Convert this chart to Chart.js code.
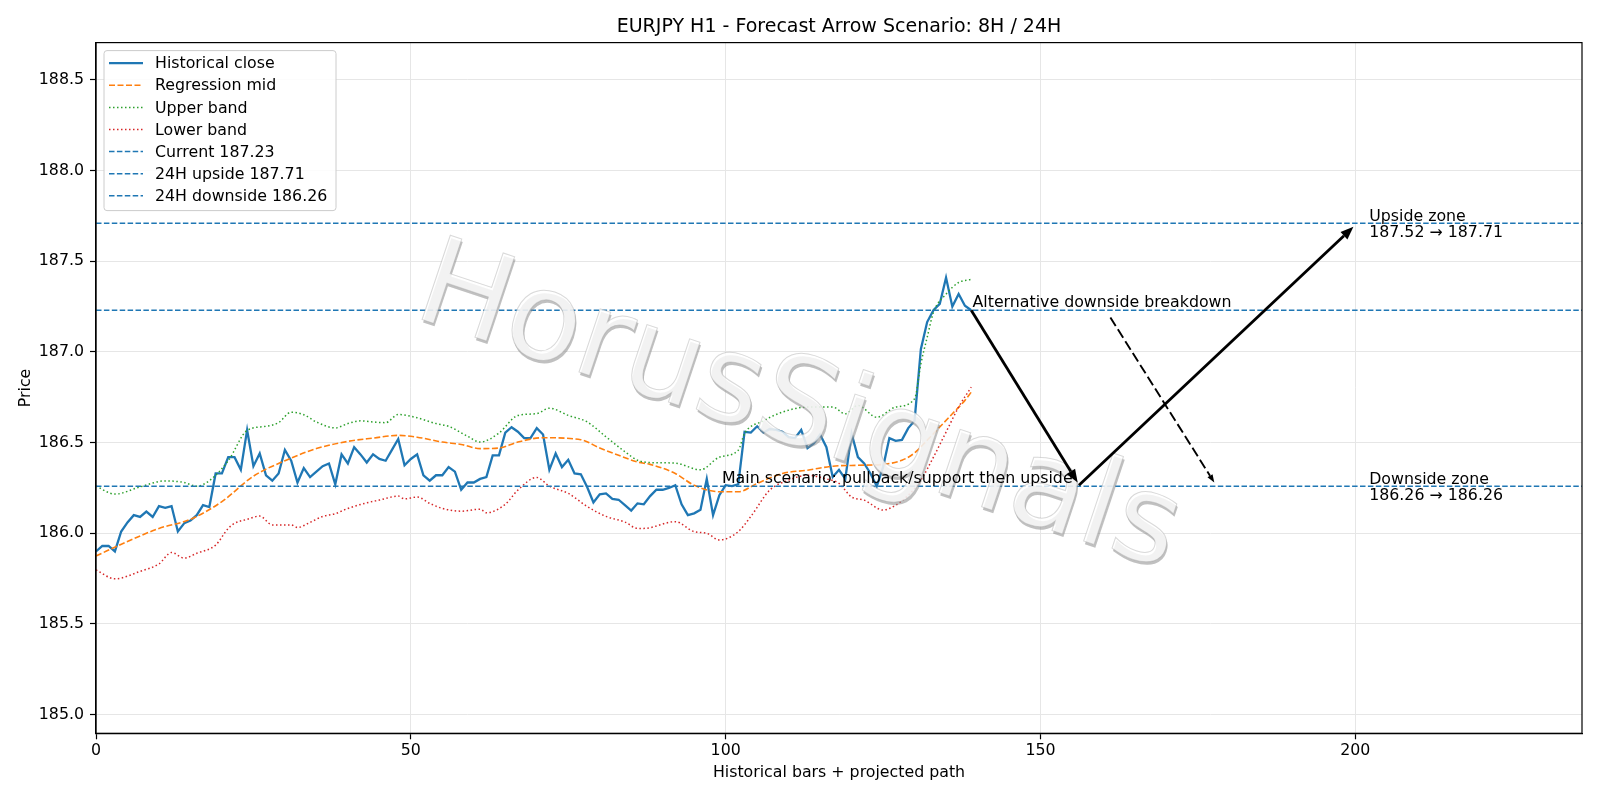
<!DOCTYPE html>
<html>
<head>
<meta charset="utf-8">
<script src="https://cdn.jsdelivr.net/npm/chart.js@4.4.1/dist/chart.umd.min.js"></script>
<style>
    html, body { margin: 0; padding: 0; background: #fff; }
    #wrap { width: 1600px; height: 800px; }
</style>
</head>
<body>
<div id="wrap"><canvas id="chart" width="1600" height="800"></canvas></div>
<script>
// historical close, one value per bar (0..139)
const closeValues = [
    185.90, 185.93, 185.93, 185.90, 186.01, 186.06, 186.10, 186.09, 186.12, 186.09,
    186.15, 186.14, 186.15, 186.01, 186.055, 186.07, 186.10, 186.155, 186.145, 186.33,
    186.33, 186.42, 186.42, 186.35, 186.57, 186.37, 186.44, 186.32, 186.29, 186.33,
    186.46, 186.40, 186.28, 186.36, 186.31, 186.34, 186.37, 186.385, 186.27, 186.435,
    186.385, 186.475, 186.435, 186.39, 186.435, 186.41, 186.40, 186.46, 186.52, 186.375,
    186.41, 186.435, 186.32, 186.29, 186.32, 186.32, 186.365, 186.34, 186.24, 186.28,
    186.28, 186.30, 186.31, 186.43, 186.43, 186.555, 186.585, 186.56, 186.525, 186.525,
    186.58, 186.545, 186.35, 186.44, 186.365, 186.405, 186.33, 186.325, 186.255, 186.17,
    186.215, 186.22, 186.19, 186.185, 186.155, 186.125, 186.165, 186.16, 186.205, 186.24,
    186.24, 186.25, 186.265, 186.16, 186.10, 186.11, 186.13, 186.30, 186.10, 186.21,
    186.265, 186.26, 186.27, 186.56, 186.555, 186.59, 186.555, 186.575, 186.57, 186.56,
    186.53, 186.525, 186.57, 186.47, 186.495, 186.545, 186.475, 186.31, 186.35, 186.30,
    186.55, 186.42, 186.385, 186.33, 186.26, 186.365, 186.525, 186.51, 186.515, 186.58,
    186.62, 187.015, 187.165, 187.23, 187.265, 187.41, 187.25, 187.32, 187.255, 187.23
]

const midX = [0, 5, 10, 15, 20, 25, 30, 35, 40, 44, 48, 51, 55, 58, 61, 64, 67, 71, 77, 80,
    83, 86, 88, 92, 95, 99, 102, 105, 109, 113, 117, 121, 125, 128, 130, 132, 134, 136, 138, 139]
const midY = [185.875, 185.955, 186.027, 186.077, 186.175, 186.315, 186.40, 186.467, 186.507, 186.525,
    186.54, 186.53, 186.503, 186.49, 186.467, 186.47, 186.503, 186.527, 186.516, 186.47,
    186.43, 186.393, 186.38, 186.33, 186.265, 186.229, 186.229, 186.275, 186.33, 186.348,
    186.37, 186.375, 186.38, 186.403, 186.443, 186.513, 186.586, 186.659, 186.733, 186.778]

const upperX = [0, 3, 7, 11, 14, 16, 18, 21, 24, 27, 29, 31, 33, 35, 38, 40, 42, 44, 46, 48,
    51, 54, 56, 59, 61, 64, 67, 70, 72, 75, 78, 81, 84, 86, 88, 92, 96, 99, 102, 103,
    106, 109, 113, 117, 119, 121, 124, 127, 130, 131, 132, 133, 135, 137, 139]
const upperY = [186.26, 186.216, 186.256, 186.289, 186.28, 186.26, 186.29, 186.40, 186.567, 186.59,
    186.61, 186.668, 186.654, 186.614, 186.581, 186.605, 186.62, 186.614, 186.61, 186.655,
    186.637, 186.605, 186.59, 186.535, 186.503, 186.553, 186.65, 186.66, 186.69, 186.65,
    186.614, 186.532, 186.45, 186.403, 186.39, 186.387, 186.35, 186.42, 186.458, 186.55,
    186.62, 186.668, 186.696, 186.696, 186.659, 186.705, 186.64, 186.696, 186.742, 186.934,
    187.08, 187.218, 187.319, 187.383, 187.40]

const lowerX = [0, 3, 7, 10, 12, 14, 16, 19, 21, 22, 24, 26, 28, 31, 32, 34, 36, 38, 40, 43,
    45, 48, 49, 51, 53, 55, 58, 61, 62, 65, 67, 70, 72, 75, 78, 81, 84, 86, 87, 92,
    95, 97, 99, 102, 104, 107, 110, 113, 116, 118, 120, 122, 125, 127, 129, 131, 133, 135, 137, 139]
const lowerY = [185.798, 185.749, 185.79, 185.831, 185.894, 185.863, 185.89, 185.935, 186.027, 186.055,
    186.077, 186.095, 186.046, 186.046, 186.032, 186.06, 186.093, 186.108, 186.137, 186.168,
    186.183, 186.205, 186.19, 186.2, 186.165, 186.137, 186.122, 186.133, 186.113, 186.16,
    186.238, 186.308, 186.26, 186.22, 186.148, 186.093, 186.062, 186.027, 186.027, 186.064,
    186.009, 186.0, 185.963, 186.009, 186.093, 186.238, 186.293, 186.32, 186.30, 186.275,
    186.20, 186.183, 186.128, 186.155, 186.21, 186.293, 186.42, 186.558, 186.696, 186.806]

const levelValues = [187.23, 187.71, 186.26]
const levelLabels = ["Current 187.23", "24H upside 187.71", "24H downside 186.26"]

// projected path arrows (bar index, price)
const arrowFrom = [[139, 187.23], [156.1, 186.265], [161.1, 187.19]]
const arrowTo = [[155.9, 186.28], [199.7, 187.69], [177.6, 186.28]]
const arrowDashed = [false, false, true]

const noteTexts = [
    ["Main scenario: pullback/support then upside"],
    ["Alternative downside breakdown"],
    ["Upside zone", "187.52 \u2192 187.71"],
    ["Downside zone", "186.26 \u2192 186.26"]
]
const noteX = [155.1, 139.2, 202.2, 202.2]
const noteY = [186.26, 187.23, 187.71, 186.26]
const noteAlign = ["right", "left", "left", "left"]

const xMax = 236
const FONT = "'DejaVu Sans', sans-serif"

const pairUp = (xs, ys) => xs.map((x, i) => ({ x, y: ys[i] }))

Chart.defaults.font.family = FONT
Chart.defaults.font.size = 15.8
Chart.defaults.color = "#000"

const levelDatasets = levelValues.map((value, i) => ({
    label: levelLabels[i],
    data: [{ x: 0, y: value }, { x: xMax, y: value }],
    borderColor: "#1f77b4",
    borderWidth: 1.5,
    borderDash: [5.5, 2.4],
    pointRadius: 0,
    order: 2 - i,
}))

const drawArrow = (ctx, x1, y1, x2, y2, dashed) => {
    const angle = Math.atan2(y2 - y1, x2 - x1)
    const head = dashed ? 8 : 13
    const half = dashed ? 3 : 5
    const bx = x2 - head * Math.cos(angle)
    const by = y2 - head * Math.sin(angle)

    ctx.strokeStyle = "#000"
    ctx.fillStyle = "#000"
    ctx.lineWidth = dashed ? 1.9 : 2.8
    ctx.setLineDash(dashed ? [10, 4] : [])
    ctx.beginPath()
    ctx.moveTo(x1, y1)
    ctx.lineTo(bx, by)
    ctx.stroke()

    ctx.setLineDash([])
    ctx.beginPath()
    ctx.moveTo(x2, y2)
    ctx.lineTo(bx + half * Math.sin(angle), by - half * Math.cos(angle))
    ctx.lineTo(bx - half * Math.sin(angle), by + half * Math.cos(angle))
    ctx.closePath()
    ctx.fill()
}

const watermark = {
    id: "watermark",
    afterDatasetsDraw(chart) {
        const ctx = chart.ctx
        const text = "HorusSignals"
        ctx.save()
        ctx.translate(798, 412)
        ctx.rotate(18.5 * Math.PI / 180)
        ctx.font = "122px " + FONT
        ctx.textAlign = "center"
        ctx.textBaseline = "middle"
        ctx.fillStyle = "rgba(140,140,140,0.55)"
        ctx.fillText(text, 2, 2.5)
        ctx.fillStyle = "rgba(255,255,255,0.8)"
        ctx.fillText(text, 0, 0)
        ctx.strokeStyle = "rgba(160,160,160,0.4)"
        ctx.lineWidth = 1
        ctx.strokeText(text, 0, 0)
        ctx.restore()
    }
}

const overlay = {
    id: "overlay",
    afterDraw(chart) {
        const ctx = chart.ctx
        const area = chart.chartArea
        const xs = chart.scales.x
        const ys = chart.scales.y

        ctx.save()

        // arrows
        arrowFrom.forEach((from, i) => {
            drawArrow(ctx,
                xs.getPixelForValue(from[0]), ys.getPixelForValue(from[1]),
                xs.getPixelForValue(arrowTo[i][0]), ys.getPixelForValue(arrowTo[i][1]),
                arrowDashed[i])
        })

        // annotation texts
        ctx.font = "15.8px " + FONT
        ctx.fillStyle = "#000"
        ctx.textBaseline = "alphabetic"
        noteTexts.forEach((lines, i) => {
            const px = xs.getPixelForValue(noteX[i])
            const py = ys.getPixelForValue(noteY[i])
            ctx.textAlign = noteAlign[i]
            if (lines.length === 1) {
                ctx.fillText(lines[0], px, py - 3)
            } else {
                ctx.fillText(lines[0], px, py - 2.5)
                ctx.fillText(lines[1], px, py + 14)
            }
        })

        // title
        ctx.font = "19px " + FONT
        ctx.textAlign = "center"
        ctx.textBaseline = "middle"
        ctx.fillText("EURJPY H1 - Forecast Arrow Scenario: 8H / 24H", (area.left + area.right) / 2, 27.5)

        // legend
        const lx = area.left + 8
        const ly = area.top + 8
        const lw = 232
        const lh = 160
        ctx.fillStyle = "rgba(255,255,255,0.85)"
        ctx.strokeStyle = "#cccccc"
        ctx.lineWidth = 1
        ctx.beginPath()
        ctx.roundRect(lx, ly, lw, lh, 3)
        ctx.fill()
        ctx.stroke()

        ctx.font = "15.8px " + FONT
        ctx.textAlign = "left"
        chart.data.datasets.forEach((ds, i) => {
            const rowY = ly + 12.6 + i * 22.1
            ctx.strokeStyle = ds.borderColor
            ctx.lineWidth = ds.borderWidth
            ctx.setLineDash(ds.borderDash || [])
            ctx.beginPath()
            ctx.moveTo(lx + 5, rowY)
            ctx.lineTo(lx + 39, rowY)
            ctx.stroke()
            ctx.setLineDash([])
            ctx.fillStyle = "#000"
            ctx.fillText(ds.label, lx + 51, rowY + 1)
        })

        // frame
        ctx.strokeStyle = "#000"
        ctx.lineWidth = 1.2
        ctx.strokeRect(area.left, area.top, area.right - area.left, area.bottom - area.top)

        ctx.restore()
    }
}

const config = {
    type: "line",
    data: {
        datasets: [
            {
                label: "Historical close",
                data: closeValues.map((v, i) => ({ x: i, y: v })),
                borderColor: "#1f77b4",
                borderWidth: 2.3,
                pointRadius: 0,
                order: 6,
            },
            {
                label: "Regression mid",
                data: pairUp(midX, midY),
                borderColor: "#ff7f0e",
                borderWidth: 1.6,
                borderDash: [6, 2.5],
                pointRadius: 0,
                cubicInterpolationMode: "monotone",
                order: 5,
            },
            {
                label: "Upper band",
                data: pairUp(upperX, upperY),
                borderColor: "#2ca02c",
                borderWidth: 1.5,
                borderDash: [1.5, 2.5],
                pointRadius: 0,
                cubicInterpolationMode: "monotone",
                order: 4,
            },
            {
                label: "Lower band",
                data: pairUp(lowerX, lowerY),
                borderColor: "#d62728",
                borderWidth: 1.5,
                borderDash: [1.5, 2.5],
                pointRadius: 0,
                cubicInterpolationMode: "monotone",
                order: 3,
            },
            ...levelDatasets,
        ],
    },
    options: {
        responsive: false,
        animation: false,
        layout: {
            padding: { left: 0, right: 18, top: 42.6, bottom: 0 },
        },
        plugins: {
            legend: { display: false },
            title: { display: false },
            tooltip: { enabled: false },
        },
        scales: {
            x: {
                type: "linear",
                min: 0,
                max: xMax,
                afterFit: (scale) => { scale.height = 66.7 },
                ticks: {
                    stepSize: 50,
                    includeBounds: false,
                    padding: 2.5,
                    callback: (v) => v,
                },
                grid: {
                    color: "#e6e6e6",
                    tickColor: "#000",
                    tickLength: 6,
                    tickWidth: 1.2,
                },
                border: { color: "#000", width: 1.2 },
                title: {
                    display: true,
                    text: "Historical bars + projected path",
                    padding: { top: 0, bottom: 17.3 },
                },
            },
            y: {
                min: 184.897,
                max: 188.706,
                afterFit: (scale) => { scale.width = 96 },
                ticks: {
                    stepSize: 0.5,
                    includeBounds: false,
                    padding: 6,
                    callback: (v) => v.toFixed(1),
                },
                grid: {
                    color: "#e6e6e6",
                    tickColor: "#000",
                    tickLength: 6,
                    tickWidth: 1.2,
                },
                border: { color: "#000", width: 1.2 },
                title: {
                    display: true,
                    text: "Price",
                    padding: { top: 16.2, bottom: 0 },
                },
            },
        },
    },
    plugins: [watermark, overlay],
}

const chart = new Chart(document.getElementById("chart"), config)
</script>
</body>
</html>
